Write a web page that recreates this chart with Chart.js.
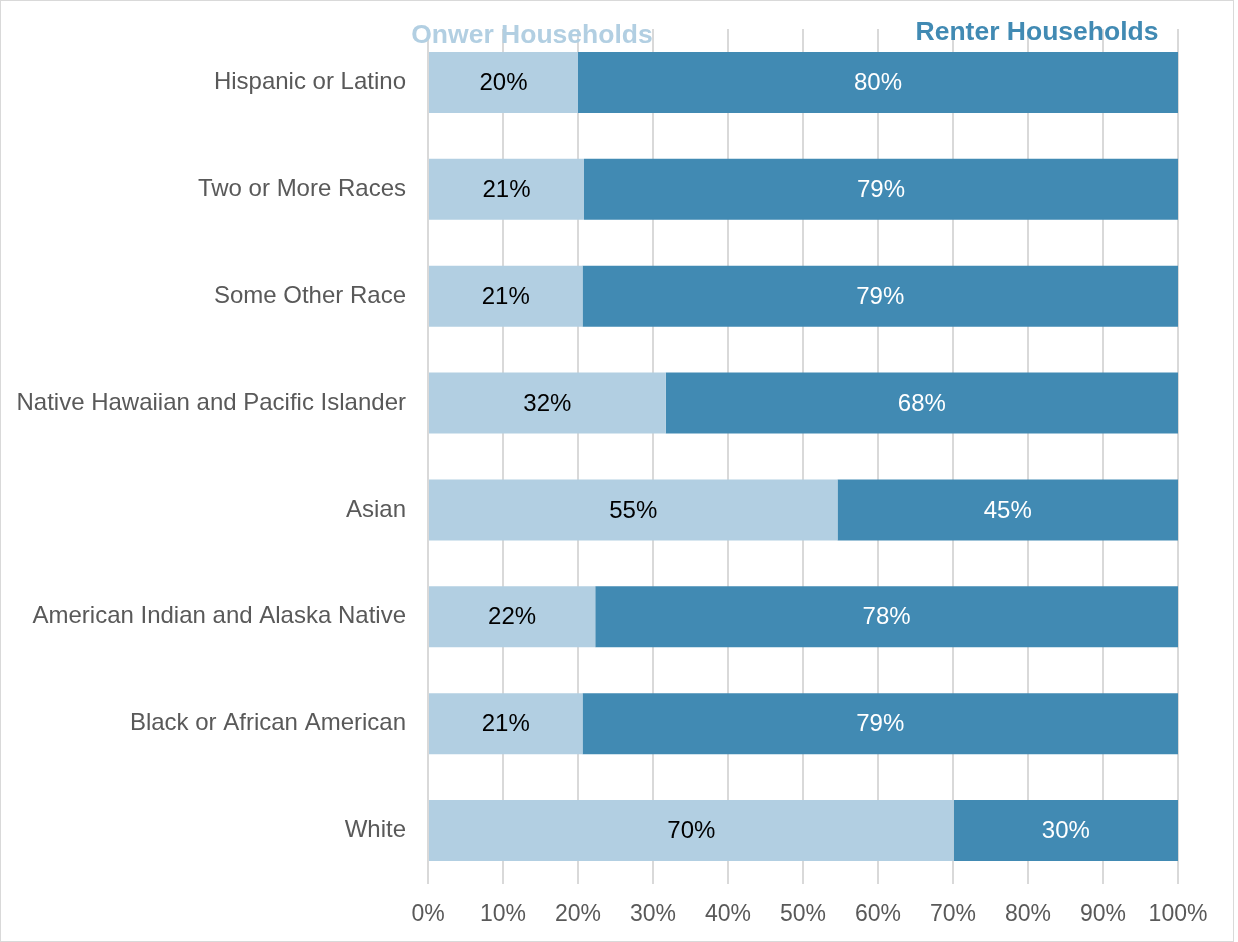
<!DOCTYPE html>
<html>
<head>
<meta charset="utf-8">
<script src="https://cdn.jsdelivr.net/npm/chart.js@4"></script>
<style>
  html, body { margin: 0; padding: 0; background: #fff; }
  #wrap { position: relative; width: 1232px; height: 940px; border: 1px solid #d9d9d9; }
  #wrap canvas { position: absolute; left: -1px; top: -1px; }
</style>
</head>
<body>
<div id="wrap"><canvas id="tenure_by_race" width="1238" height="942"></canvas></div>
<script>
// categories, top to bottom
const categories = [
    'Hispanic or Latino',
    'Two or More Races',
    'Some Other Race',
    'Native Hawaiian and Pacific Islander',
    'Asian',
    'American Indian and Alaska Native',
    'Black or African American',
    'White'
];
// shares in percent
const owner_values = [20.0, 20.8, 20.6, 31.7, 54.6, 22.3, 20.6, 70.1];
const renter_values = [80.0, 79.2, 79.4, 68.3, 45.4, 77.7, 79.4, 29.9];
const x_ticks = [0, 10, 20, 30, 40, 50, 60, 70, 80, 90, 100];

const color_owner = '#b2cfe2';
const color_renter = '#418ab3';
const font_family = '"Liberation Sans", Arial, sans-serif';

// values written in the middle of each segment
const bar_labels = {
    id: 'bar_labels',
    afterDatasetsDraw(chart) {
        const ctx = chart.ctx;
        ctx.save();
        ctx.font = '24px ' + font_family;
        ctx.textAlign = 'center';
        ctx.textBaseline = 'middle';
        chart.data.datasets.forEach((ds, i) => {
            const meta = chart.getDatasetMeta(i);
            ctx.fillStyle = i === 0 ? '#000000' : '#ffffff';
            meta.data.forEach((bar, j) => {
                const xm = (bar.x + bar.base) / 2;
                ctx.fillText(Math.round(ds.data[j]) + '%', xm, bar.y + 1);
            });
        });
        ctx.restore();
    }
};

// the two series names above the plot
const series_titles = {
    id: 'series_titles',
    afterDraw(chart) {
        const ctx = chart.ctx;
        const area = chart.chartArea;
        ctx.save();
        ctx.font = 'bold 26.5px ' + font_family;
        ctx.textAlign = 'center';
        ctx.textBaseline = 'middle';
        ctx.fillStyle = color_owner;
        ctx.fillText('Onwer Households', area.left + 104, 36);
        ctx.fillStyle = color_renter;
        ctx.fillText('Renter Households', area.right - 141, 33);
        ctx.restore();
    }
};

const data_tenure = {
    labels: categories,
    datasets: [{
        label: 'Onwer Households',
        data: owner_values,
        backgroundColor: color_owner,
        barPercentage: 0.57,
        categoryPercentage: 1
    }, {
        label: 'Renter Households',
        data: renter_values,
        backgroundColor: color_renter,
        barPercentage: 0.57,
        categoryPercentage: 1
    }]
};

const config_tenure = {
    type: 'bar',
    data: data_tenure,
    options: {
        indexAxis: 'y',
        responsive: false,
        animation: false,
        layout: { padding: { top: 29, right: 60, left: 0, bottom: 0 } },
        plugins: {
            legend: { display: false },
            tooltip: { enabled: false }
        },
        scales: {
            x: {
                stacked: true,
                min: 0,
                max: 100,
                afterBuildTicks(scale) {
                    scale.ticks = x_ticks.map(v => ({ value: v }));
                },
                afterFit(scale) { scale.height = 58; },
                grid: { color: '#d9d9d9', lineWidth: 2, drawTicks: false },
                border: { display: false },
                ticks: {
                    padding: 17,
                    color: '#595959',
                    font: { family: font_family, size: 23 },
                    callback: v => v + '%'
                }
            },
            y: {
                stacked: true,
                afterFit(scale) {
                    scale.width = 428;
                    scale.paddingTop = 0;
                    scale.paddingBottom = 0;
                },
                grid: { display: false },
                border: { display: false },
                ticks: {
                    padding: 14,
                    color: '#595959',
                    font: { family: font_family, size: 24 }
                }
            }
        }
    },
    plugins: [bar_labels, series_titles]
};

const grafico_tenure = new Chart(
    document.getElementById('tenure_by_race'),
    config_tenure
);
</script>
</body>
</html>
